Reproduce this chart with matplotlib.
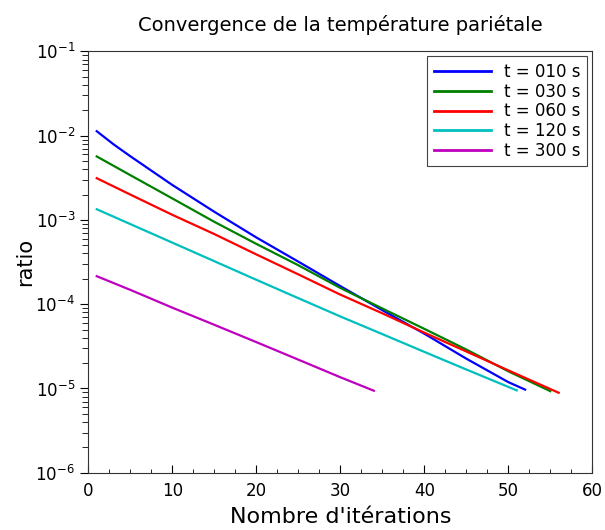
"""Convergence de la température pariétale (ratio vs nombre d'itérations)."""

import matplotlib
matplotlib.use("Agg")
import matplotlib.pyplot as plt
from matplotlib.ticker import MultipleLocator, LogLocator, NullFormatter

labels = ["t = 010 s", "t = 030 s", "t = 060 s", "t = 120 s", "t = 300 s"]
colors = ["#0000ff", "#008000", "#ff0000", "#00bfbf", "#bf00bf"]

iter_010 = [1, 3, 5, 10, 15, 20, 25, 30, 35, 40, 45, 50, 52]
ratio_010 = [1.13e-2, 7.9e-3, 5.7e-3, 2.6e-3, 1.25e-3, 6.2e-4, 3.2e-4, 1.64e-4,
             8.5e-5, 4.47e-5, 2.26e-5, 1.19e-5, 9.7e-6]

iter_030 = [1, 5, 10, 15, 20, 25, 30, 35, 40, 45, 50, 55]
ratio_030 = [5.67e-3, 3.4e-3, 1.8e-3, 9.5e-4, 5.2e-4, 2.9e-4, 1.56e-4,
             8.9e-5, 5.1e-5, 2.9e-5, 1.6e-5, 9.3e-6]

iter_060 = [1, 5, 10, 15, 20, 25, 30, 35, 40, 45, 50, 56]
ratio_060 = [3.13e-3, 2.0e-3, 1.15e-3, 6.8e-4, 3.9e-4, 2.26e-4, 1.3e-4,
             7.8e-5, 4.6e-5, 2.75e-5, 1.64e-5, 8.9e-6]

iter_120 = [1, 5, 10, 15, 20, 25, 30, 35, 40, 45, 51]
ratio_120 = [1.34e-3, 8.93e-4, 5.38e-4, 3.24e-4, 1.95e-4, 1.18e-4, 7.16e-5,
             4.42e-5, 2.72e-5, 1.68e-5, 9.5e-6]

iter_300 = [1, 5, 10, 15, 20, 25, 30, 34]
ratio_300 = [2.15e-4, 1.48e-4, 9.1e-5, 5.7e-5, 3.55e-5, 2.2e-5, 1.36e-5, 9.4e-6]

series = [
    (iter_010, ratio_010),
    (iter_030, ratio_030),
    (iter_060, ratio_060),
    (iter_120, ratio_120),
    (iter_300, ratio_300),
]

plt.rcParams["font.family"] = ["DejaVu Sans"]
plt.rcParams["mathtext.fontset"] = "dejavusans"

fig = plt.figure(figsize=(6.05, 5.30), dpi=100)
ax = fig.add_axes([0.146, 0.108, 0.833, 0.795])

for (x, y), lab, col in zip(series, labels, colors):
    ax.plot(x, y, color=col, lw=1.6, label=lab)

ax.set_yscale("log")
ax.set_xlim(0, 60)
ax.set_ylim(1e-6, 1e-1)

ax.xaxis.set_major_locator(MultipleLocator(10))
ax.xaxis.set_minor_locator(MultipleLocator(2.5))
ax.yaxis.set_minor_locator(LogLocator(base=10, subs=range(2, 10)))
ax.yaxis.set_minor_formatter(NullFormatter())

ax.tick_params(axis="x", which="both", direction="in", top=False, labelsize=12, pad=7)
ax.tick_params(axis="x", which="major", length=6)
ax.tick_params(axis="x", which="minor", length=3)
ax.tick_params(axis="y", which="both", direction="out", right=False, labelsize=12)
ax.tick_params(axis="y", which="major", length=6)
ax.tick_params(axis="y", which="minor", length=4)
for sp in ax.spines.values():
    sp.set_linewidth(0.8)
    sp.set_color("#333333")

ax.set_xlabel("Nombre d'itérations", fontsize=16, labelpad=5)
ax.set_ylabel("ratio", fontsize=15, labelpad=0)
ax.set_title("Convergence de la température pariétale", fontsize=14, pad=15)

leg = ax.legend(loc="upper right", fontsize=12, handlelength=3.4,
                fancybox=False, framealpha=1, edgecolor="#444444",
                borderaxespad=0.3, labelspacing=0.1)
leg.get_frame().set_linewidth(0.8)
for line in leg.get_lines():
    line.set_linewidth(2)

fig.savefig("out.png", dpi=100)
